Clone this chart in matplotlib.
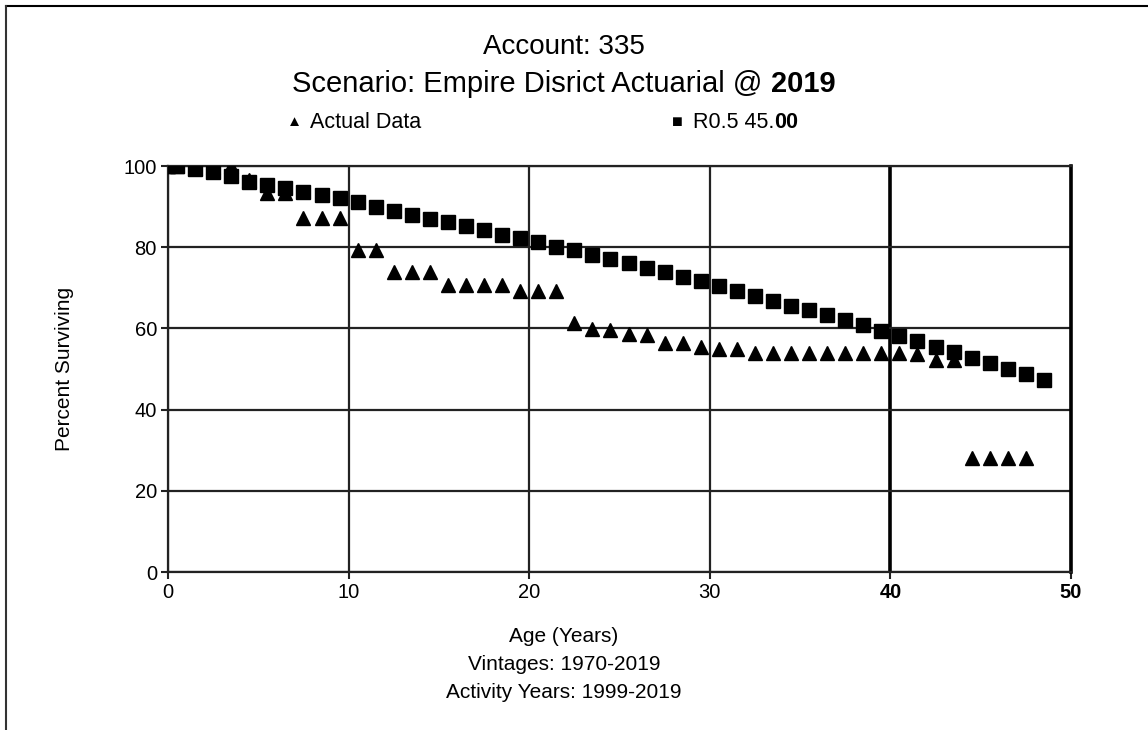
import matplotlib
matplotlib.use("Agg")
import matplotlib.pyplot as plt
from matplotlib.lines import Line2D

plt.rcParams['font.family'] = ['Liberation Sans', 'DejaVu Sans']

# R0.5 45.00 curve (squares)
age_curve = [0, 0.5, 1.5, 2.5, 3.5, 4.5, 5.5, 6.5, 7.5, 8.5, 9.5, 10.5, 11.5, 12.5,
             13.5, 14.5, 15.5, 16.5, 17.5, 18.5, 19.5, 20.5, 21.5, 22.5, 23.5, 24.5,
             25.5, 26.5, 27.5, 28.5, 29.5, 30.5, 31.5, 32.5, 33.5, 34.5, 35.5, 36.5,
             37.5, 38.5, 39.5, 40.5, 41.5, 42.5, 43.5, 44.5, 45.5, 46.5, 47.5, 48.5]
pct_curve = [100, 100, 99.2, 98.4, 97.6, 96.1, 95.4, 94.5, 93.7, 92.9, 92.0, 91.2, 90.0,
             88.9, 87.9, 87.0, 86.1, 85.2, 84.2, 83.1, 82.2, 81.2, 80.1, 79.2, 78.1,
             77.0, 76.0, 74.8, 73.8, 72.6, 71.7, 70.4, 69.1, 68.1, 66.8, 65.6, 64.5,
             63.3, 62.1, 60.8, 59.4, 58.1, 56.8, 55.5, 54.2, 52.7, 51.4, 50.0, 48.7, 47.3]

# actual data (triangles)
age_actual = [0, 0.5, 1.5, 2.5, 3.5, 4.5, 5.5, 6.5, 7.5, 8.5, 9.5, 10.5, 11.5, 12.5,
              13.5, 14.5, 15.5, 16.5, 17.5, 18.5, 19.5, 20.5, 21.5, 22.5, 23.5, 24.5,
              25.5, 26.5, 27.5, 28.5, 29.5, 30.5, 31.5, 32.5, 33.5, 34.5, 35.5, 36.5,
              37.5, 38.5, 39.5, 40.5, 41.5, 42.5, 43.5, 44.5, 45.5, 46.5, 47.5]
pct_actual = [100, 100, 99.5, 99.7, 99.9, 96.5, 93.4, 93.4, 87.2, 87.2, 87.2, 79.3, 79.3,
              73.8, 73.8, 73.8, 70.7, 70.7, 70.7, 70.7, 69.3, 69.3, 69.3, 61.3, 59.9,
              59.6, 58.7, 58.4, 56.5, 56.5, 55.3, 55.0, 55.0, 54.0, 54.0, 54.0, 54.0,
              54.0, 54.0, 54.0, 54.0, 54.0, 53.6, 52.2, 52.2, 28.2, 28.2, 28.2, 28.2]

xticks = [0, 10, 20, 30, 40, 50]
yticks = [0, 20, 40, 60, 80, 100]

W, H = 1148, 730
fig = plt.figure(figsize=(W/100, H/100), dpi=100)
ax = fig.add_axes([168/W, 1-572/H, (1071-168)/W, (572-166)/H])

ax.plot(age_actual, pct_actual, linestyle='none', marker='^', markersize=9.5,
        color='black', zorder=3)
ax.plot(age_curve, pct_curve, linestyle='none', marker='s', markersize=9.5,
        color='black', zorder=4)

ax.set_xlim(0, 50)
ax.set_ylim(0, 100)
ax.set_xticks(xticks)
ax.set_yticks(yticks)
ax.set_xticklabels([str(t) for t in xticks], fontsize=14.5)
ax.set_yticklabels([str(t) for t in yticks], fontsize=14.5)
for lbl in ax.get_xticklabels()[4:]:
    lbl.set_fontweight('bold')
ax.tick_params(axis='both', length=5, width=1.5, color='#222222', pad=3)
ax.grid(True, color='#222222', linewidth=1.6)
for sp in ax.spines.values():
    sp.set_color('#222222')
    sp.set_linewidth(1.6)
ax.spines['right'].set_linewidth(2.6)
ax.spines['right'].set_color('black')
ax.get_xgridlines()[4].set_linewidth(2.6)
ax.get_xgridlines()[4].set_color('black')

ax.set_ylabel('Percent Surviving', fontsize=15)
ax.yaxis.set_label_coords((74-168)/(1071-168), 0.5)


def two_part(x, y, normal, bold, size, align='center'):
    # normal text followed by bold text on one line
    r = fig.canvas.get_renderer()
    t1 = fig.text(0, y/H, normal, fontsize=size, va='center', ha='left')
    t2 = fig.text(0, y/H, bold, fontsize=size, va='center', ha='left',
                  fontweight='bold')
    w1 = t1.get_window_extent(r).width
    w2 = t2.get_window_extent(r).width
    x0 = x - (w1 + w2) / 2 if align == 'center' else x
    t1.set_x(x0 / W)
    t2.set_x((x0 + w1) / W)


# titles
fig.text(564/W, 1-47/H, 'Account: 335', ha='center', va='center', fontsize=20)
two_part(564, H-84, 'Scenario: Empire Disrict Actuarial @ ', '2019', 21)

# legend
fig.text(294/W, 1-122/H, '\u25b2', ha='center', va='center', fontsize=11)
fig.text(310/W, 1-122/H, 'Actual Data', ha='left', va='center', fontsize=15.5)
fig.text(677/W, 1-122/H, '\u25a0', ha='center', va='center', fontsize=13)
two_part(693, H-122, 'R0.5 45.', '00', 15.5, align='left')

# x-axis captions
fig.text(564/W, 1-637/H, 'Age (Years)', ha='center', va='center', fontsize=15)
fig.text(564/W, 1-664/H, 'Vintages: 1970-2019', ha='center', va='center',
         fontsize=15)
fig.text(564/W, 1-692/H, 'Activity Years: 1999-2019', ha='center', va='center',
         fontsize=15)

# outer frame (top and left only)
fig.add_artist(Line2D([6/W, 1], [1-6/H, 1-6/H], color='black', linewidth=1.5))
fig.add_artist(Line2D([6/W, 6/W], [0, 1-6/H], color='#333333', linewidth=1.5))

fig.savefig('out.png', dpi=100)
